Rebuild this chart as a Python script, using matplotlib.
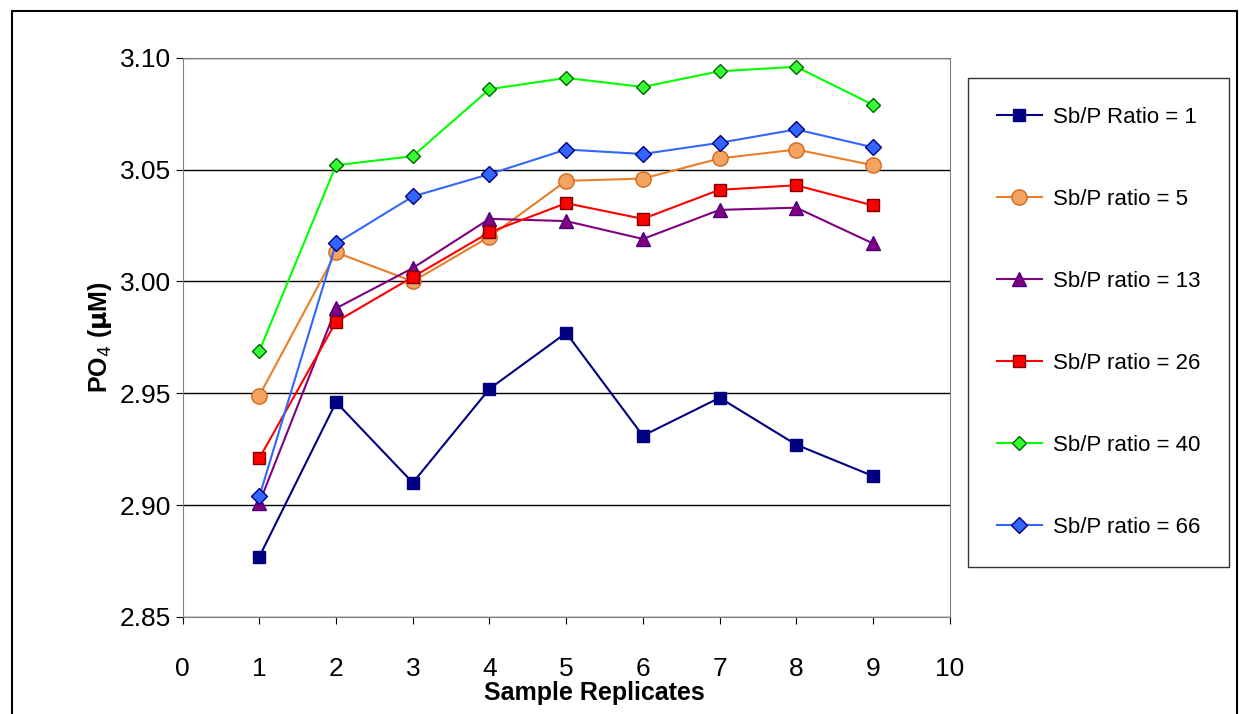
import matplotlib.pyplot as plt
from matplotlib.patches import Rectangle

plt.rcParams['font.family'] = ['Liberation Sans', 'DejaVu Sans']

replicates = [1, 2, 3, 4, 5, 6, 7, 8, 9]
ratio_1 = [2.877, 2.946, 2.910, 2.952, 2.977, 2.931, 2.948, 2.927, 2.913]
ratio_5 = [2.949, 3.013, 3.000, 3.020, 3.045, 3.046, 3.055, 3.059, 3.052]
ratio_13 = [2.901, 2.988, 3.006, 3.028, 3.027, 3.019, 3.032, 3.033, 3.017]
ratio_26 = [2.921, 2.982, 3.002, 3.022, 3.035, 3.028, 3.041, 3.043, 3.034]
ratio_40 = [2.969, 3.052, 3.056, 3.086, 3.091, 3.087, 3.094, 3.096, 3.079]
ratio_66 = [2.904, 3.017, 3.038, 3.048, 3.059, 3.057, 3.062, 3.068, 3.060]

series = [
    (ratio_1, 'Sb/P Ratio = 1', '#000080', 's', '#000080', '#000080', 8),
    (ratio_5, 'Sb/P ratio = 5', '#E87E2A', 'o', '#F4A460', '#D2691E', 11),
    (ratio_13, 'Sb/P ratio = 13', '#800080', '^', '#800080', '#4B0082', 10),
    (ratio_26, 'Sb/P ratio = 26', '#FF0000', 's', '#FF0000', '#800000', 9),
    (ratio_40, 'Sb/P ratio = 40', '#00FF00', 'D', '#33FF33', '#006400', 7),
    (ratio_66, 'Sb/P ratio = 66', '#3366FF', 'D', '#3366FF', '#000080', 8),
]

fig = plt.figure(figsize=(12.43, 7.14), dpi=100)
fig.patches.append(Rectangle((0.01, -0.05), 0.985, 1.035, transform=fig.transFigure,
                             fill=False, edgecolor='black', linewidth=1.5))
ax = fig.add_axes([0.147, 0.136, 0.617, 0.783])

for vals, label, col, mk, fc, ec, ms in series:
    ax.plot(replicates, vals, color=col, linewidth=1.5, marker=mk, markersize=ms,
            markerfacecolor=fc, markeredgecolor=ec, label=label)

ax.set_xlim(0, 10)
ax.set_ylim(2.85, 3.10)
ax.set_xticks(range(0, 11))
ax.set_yticks([2.85, 2.90, 2.95, 3.00, 3.05, 3.10])
ax.set_yticklabels(['2.85', '2.90', '2.95', '3.00', '3.05', '3.10'])
ax.grid(axis='y', color='black', linewidth=1)
ax.set_axisbelow(True)
for s in ax.spines.values():
    s.set_color('#808080')
ax.tick_params(labelsize=19, length=5, direction='out')
ax.tick_params(axis='x', pad=24)
fig.text(0.478, 0.029, 'Sample Replicates', fontsize=18, fontweight='bold',
         ha='center', va='center')
ax.set_ylabel(r'PO$_4$ ($\mathbf{\mu}$M)', fontsize=18, fontweight='bold', labelpad=4)

leg = fig.legend(loc='upper left', bbox_to_anchor=(0.779, 0.891), fontsize=16,
                 frameon=True, fancybox=False, edgecolor='black', labelspacing=2.75,
                 borderpad=1.3, handlelength=2.0, handletextpad=0.5, borderaxespad=0)
leg.get_frame().set_linewidth(1)

fig.savefig('out.png', dpi=100)
